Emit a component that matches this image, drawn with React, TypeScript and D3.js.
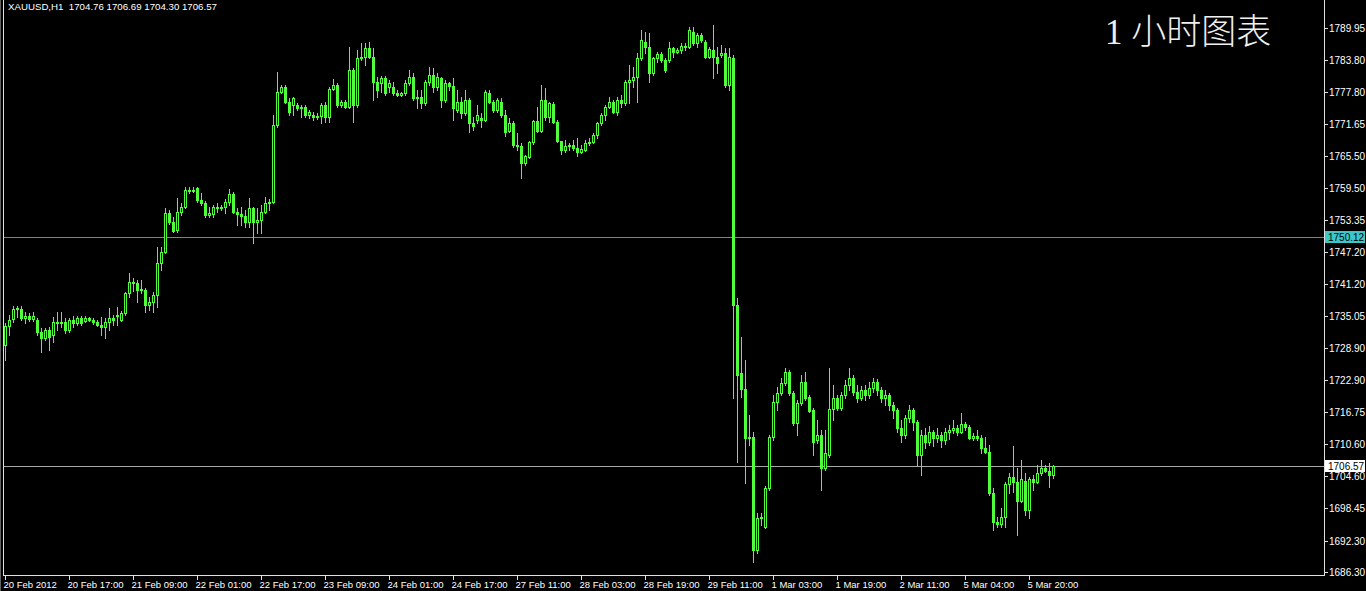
import React from 'react';
import * as d3 from 'd3';

const SYMBOL = 'XAUUSD,H1';
const TITLE = '1 小时图表';

const OPEN = [
1729.54,1733.17,1734.50,1736.40,1736.40,1734.69,1735.07,1734.50,1734.31,1732.02,
1730.88,1732.40,1731.45,1733.93,1733.74,1733.93,1732.40,1734.31,1733.74,1734.69,
1734.12,1734.69,1734.31,1733.93,1733.35,1732.97,1733.93,1734.69,1735.07,1734.31,
1735.64,1739.45,1741.55,1741.36,1740.02,1740.02,1737.17,1737.74,1739.07,1745.17,
1747.26,1754.70,1752.98,1751.45,1754.89,1755.84,1759.08,1758.89,1759.46,1757.17,
1756.60,1754.32,1754.51,1755.84,1755.65,1755.84,1756.79,1758.32,1754.89,1754.51,
1754.13,1752.98,1755.65,1752.98,1753.36,1754.89,1756.60,1756.79,1771.46,1777.75,
1778.70,1775.85,1775.28,1775.28,1774.70,1774.89,1773.37,1773.37,1772.99,1773.18,
1775.28,1772.99,1778.32,1779.08,1775.28,1775.85,1774.89,1781.95,1775.28,1784.23,
1784.42,1786.14,1784.42,1779.66,1779.46,1780.42,1778.70,1778.70,1777.56,1777.18,
1777.56,1779.46,1780.61,1776.61,1776.80,1775.66,1779.66,1780.99,1778.70,1780.42,
1776.23,1779.46,1778.89,1774.32,1775.85,1773.75,1776.23,1771.85,1772.42,1772.80,
1772.42,1777.56,1775.85,1774.32,1775.85,1773.37,1770.32,1771.85,1767.65,1767.46,
1764.22,1765.36,1768.22,1772.23,1770.32,1776.23,1772.99,1775.47,1772.04,1768.41,
1766.70,1767.46,1767.65,1767.08,1766.32,1766.70,1768.03,1768.22,1769.56,1771.85,
1773.37,1774.89,1775.85,1773.94,1776.23,1775.66,1779.66,1780.04,1780.61,1784.23,
1787.28,1786.33,1781.38,1784.23,1784.99,1783.85,1783.85,1786.14,1785.38,1785.76,
1786.52,1786.33,1789.19,1787.09,1788.61,1787.28,1784.42,1785.76,1784.42,1784.80,
1785.19,1779.08,1784.23,1737.17,1724.21,1721.16,1711.82,1712.01,1690.48,1696.58,
1694.86,1702.29,1712.01,1718.68,1720.40,1722.30,1724.40,1720.40,1714.68,1718.49,
1722.49,1719.63,1717.16,1711.44,1712.40,1706.10,1708.58,1717.35,1719.44,1717.54,
1720.02,1721.92,1723.25,1720.59,1719.44,1720.97,1720.02,1721.35,1722.49,1720.97,
1719.44,1720.02,1718.11,1717.16,1713.73,1712.40,1715.63,1717.16,1714.87,1708.58,
1712.40,1711.06,1712.96,1711.82,1712.40,1711.44,1712.96,1713.35,1713.73,1712.96,
1714.49,1713.92,1711.82,1712.20,1711.82,1709.91,1709.15,1701.34,1695.82,1695.44,
1696.77,1703.06,1704.39,1703.44,1699.82,1703.63,1698.10,1704.01,1703.44,1705.15,
1706.10,1705.53,1704.76,
];

const HIGH = [
1733.74,1735.26,1736.98,1736.98,1736.98,1735.83,1735.64,1735.83,1734.69,1732.78,
1732.78,1732.97,1734.88,1735.83,1735.83,1734.69,1734.69,1735.07,1735.07,1735.07,
1735.07,1734.88,1734.69,1734.31,1734.88,1734.69,1736.60,1735.26,1736.79,1736.02,
1739.64,1743.26,1742.31,1741.93,1741.93,1740.40,1738.69,1739.64,1748.21,1748.21,
1755.65,1755.27,1753.93,1757.55,1756.60,1759.65,1759.65,1759.65,1759.65,1758.51,
1756.98,1755.84,1756.22,1756.60,1756.22,1757.36,1759.27,1758.70,1755.65,1755.84,
1755.27,1757.55,1755.84,1755.65,1756.22,1757.74,1757.36,1773.37,1781.57,1779.08,
1779.08,1776.61,1776.80,1775.66,1775.28,1775.28,1774.32,1773.94,1773.75,1775.66,
1775.85,1778.70,1780.23,1779.46,1776.23,1776.23,1786.33,1782.33,1785.76,1787.09,
1787.09,1787.28,1786.14,1780.61,1780.80,1780.80,1780.04,1779.66,1778.13,1777.75,
1780.04,1781.95,1781.38,1778.13,1778.13,1780.04,1782.52,1782.33,1781.38,1780.61,
1780.04,1779.66,1780.42,1778.13,1776.80,1778.13,1776.61,1772.99,1775.28,1773.75,
1778.13,1778.13,1776.23,1776.61,1776.61,1774.32,1772.80,1772.23,1769.94,1768.03,
1765.75,1768.41,1772.42,1774.89,1779.08,1778.51,1775.85,1775.85,1772.42,1768.41,
1768.60,1768.03,1768.60,1768.98,1767.65,1768.60,1768.98,1769.94,1772.04,1773.75,
1775.28,1776.80,1776.23,1776.80,1777.18,1780.04,1782.90,1782.52,1785.19,1789.57,
1789.19,1788.99,1784.42,1785.38,1785.38,1784.23,1787.28,1786.33,1786.14,1787.09,
1787.09,1790.14,1790.14,1788.99,1788.99,1787.66,1786.33,1790.52,1786.33,1786.71,
1786.14,1786.14,1784.80,1738.50,1731.07,1726.68,1716.20,1712.96,1697.53,1697.53,
1702.68,1712.39,1720.02,1721.54,1723.25,1725.16,1724.78,1720.78,1719.06,1723.83,
1724.40,1720.02,1717.54,1715.25,1713.35,1713.35,1725.16,1721.92,1720.02,1720.59,
1722.87,1725.16,1723.83,1721.92,1721.73,1721.92,1722.49,1723.25,1723.06,1721.54,
1720.97,1720.40,1718.68,1717.54,1715.25,1716.20,1718.11,1717.54,1715.25,1713.35,
1713.73,1714.11,1713.35,1713.73,1712.96,1713.73,1714.30,1715.25,1714.30,1716.58,
1714.87,1714.30,1712.77,1713.35,1712.40,1712.01,1710.48,1702.29,1696.77,1698.48,
1703.44,1705.15,1710.29,1706.10,1707.63,1705.15,1704.39,1704.77,1706.67,1707.63,
1706.67,1707.06,1706.69,
];

const LOW = [
1726.68,1731.45,1733.93,1734.88,1734.31,1733.74,1734.12,1734.12,1731.45,1728.21,
1730.49,1728.59,1730.11,1732.40,1732.97,1731.83,1732.02,1732.97,1733.35,1733.35,
1733.93,1734.12,1733.55,1733.17,1731.45,1730.88,1732.40,1733.35,1733.35,1734.12,
1735.26,1738.69,1739.83,1737.74,1739.45,1735.83,1736.21,1735.83,1736.79,1743.83,
1747.07,1752.60,1751.07,1751.07,1754.32,1755.65,1758.51,1758.70,1756.79,1756.22,
1753.93,1753.93,1753.93,1754.89,1755.27,1754.70,1756.22,1754.70,1752.41,1752.41,
1752.03,1752.03,1748.98,1750.88,1750.88,1754.70,1755.27,1756.60,1771.08,1777.56,
1775.66,1773.37,1773.37,1774.32,1772.99,1772.99,1772.80,1772.42,1772.61,1771.85,
1772.04,1772.04,1778.13,1774.89,1774.89,1774.70,1774.70,1772.04,1774.89,1783.85,
1782.90,1784.23,1776.23,1776.80,1777.75,1777.18,1777.75,1777.18,1776.99,1776.99,
1777.18,1779.08,1776.23,1774.70,1774.70,1775.28,1779.08,1777.75,1778.13,1774.89,
1775.85,1778.13,1772.42,1773.94,1772.80,1773.37,1770.13,1770.51,1771.85,1771.08,
1772.23,1775.66,1773.94,1773.94,1772.99,1769.37,1770.13,1767.27,1766.70,1761.36,
1763.84,1765.17,1767.84,1770.13,1770.13,1772.42,1772.04,1771.85,1768.22,1765.93,
1766.32,1766.70,1766.70,1765.55,1766.13,1766.51,1767.65,1768.03,1768.98,1771.46,
1772.42,1774.70,1773.75,1773.37,1774.89,1775.28,1775.66,1778.70,1775.85,1783.85,
1785.19,1779.66,1780.99,1783.47,1783.47,1781.57,1783.47,1784.42,1785.19,1785.19,
1785.76,1786.14,1786.71,1786.33,1787.28,1784.23,1784.23,1780.42,1781.38,1784.42,
1778.70,1778.13,1719.44,1707.25,1719.63,1703.25,1710.48,1688.19,1689.91,1695.25,
1694.67,1701.91,1711.44,1717.16,1720.02,1721.92,1720.02,1714.30,1712.40,1718.11,
1719.06,1716.78,1708.58,1710.87,1701.91,1705.72,1708.20,1715.25,1717.16,1717.16,
1719.44,1720.97,1720.02,1718.68,1719.06,1719.06,1719.44,1720.59,1720.02,1718.68,
1718.11,1717.16,1715.63,1712.96,1711.06,1711.82,1714.87,1713.35,1706.67,1704.77,
1709.91,1710.48,1710.29,1711.06,1710.10,1710.68,1711.63,1712.77,1712.40,1712.77,
1713.35,1711.63,1711.44,1711.44,1708.96,1708.96,1700.96,1694.29,1694.86,1694.86,
1694.86,1701.34,1701.53,1693.34,1699.63,1697.15,1696.58,1701.91,1703.25,1704.77,
1705.34,1702.48,1704.30,
];

const CLOSE = [
1733.17,1734.31,1736.40,1736.60,1734.69,1735.07,1734.50,1735.07,1732.02,1730.88,
1732.40,1731.07,1733.93,1733.74,1733.93,1732.40,1734.31,1733.74,1734.69,1733.74,
1734.69,1734.31,1733.93,1733.35,1732.97,1733.93,1734.69,1734.31,1735.26,1735.64,
1739.45,1741.55,1741.36,1740.02,1740.21,1737.17,1737.74,1739.07,1745.17,1747.26,
1754.70,1752.98,1751.26,1754.89,1755.84,1759.08,1758.89,1759.08,1757.17,1756.60,
1754.32,1754.70,1755.84,1755.65,1755.84,1756.79,1758.32,1754.89,1754.51,1754.13,
1752.98,1755.65,1752.98,1753.36,1754.89,1756.60,1756.79,1771.46,1777.75,1778.70,
1775.85,1773.94,1776.61,1774.70,1774.89,1773.37,1773.94,1772.99,1773.18,1775.28,
1772.99,1778.32,1779.08,1775.28,1775.85,1774.89,1781.95,1775.28,1784.23,1784.42,
1786.14,1784.42,1779.66,1778.13,1780.42,1777.56,1779.46,1777.56,1777.18,1777.56,
1779.46,1780.61,1776.61,1776.80,1775.66,1779.66,1780.99,1778.70,1780.61,1776.23,
1779.46,1778.89,1774.70,1775.85,1773.75,1776.23,1771.85,1771.27,1773.37,1772.42,
1777.75,1775.85,1774.32,1776.23,1773.37,1770.13,1771.85,1767.65,1767.46,1764.22,
1765.55,1768.22,1772.23,1770.32,1776.23,1772.99,1775.66,1772.04,1768.41,1766.70,
1767.46,1767.65,1767.08,1766.32,1766.89,1768.03,1768.22,1769.56,1771.85,1773.37,
1774.89,1775.85,1773.94,1776.23,1775.66,1779.66,1780.04,1780.61,1784.23,1787.66,
1786.33,1781.38,1784.23,1784.99,1783.85,1781.95,1786.14,1785.38,1785.76,1786.52,
1786.33,1789.57,1787.09,1788.61,1787.66,1784.42,1785.95,1784.42,1783.28,1785.19,
1779.08,1784.42,1737.17,1723.83,1721.16,1711.82,1712.01,1690.48,1696.58,1696.77,
1702.29,1712.01,1718.68,1720.40,1722.30,1724.40,1720.40,1714.68,1718.49,1722.49,
1719.44,1716.97,1711.06,1712.40,1706.10,1708.96,1717.35,1719.44,1717.54,1720.02,
1721.92,1723.25,1720.59,1719.44,1720.97,1720.02,1721.35,1722.49,1720.97,1719.44,
1720.02,1718.11,1717.16,1713.73,1712.40,1715.63,1717.16,1714.87,1708.58,1712.40,
1711.06,1712.96,1711.82,1712.40,1711.44,1712.96,1713.35,1713.73,1712.96,1714.49,
1713.92,1711.82,1712.20,1711.82,1709.91,1709.15,1701.34,1695.82,1695.44,1696.77,
1703.06,1704.39,1703.44,1699.82,1704.01,1698.10,1704.01,1703.44,1705.15,1706.10,
1705.53,1704.76,1706.57,
];

const Y_TICKS = [1789.95, 1783.80, 1777.80, 1771.65, 1765.50, 1759.50, 1753.35, 1747.20, 1741.20,
  1735.05, 1728.90, 1722.90, 1716.75, 1710.60, 1704.60, 1698.45, 1692.30, 1686.30];

const X_TICK_BARS = [0, 16, 32, 48, 64, 80, 96, 112, 128, 144, 160, 176, 192, 208, 224, 240, 256];
const X_TICK_LABELS = ['20 Feb 2012', '20 Feb 17:00', '21 Feb 09:00', '22 Feb 01:00', '22 Feb 17:00',
  '23 Feb 09:00', '24 Feb 01:00', '24 Feb 17:00', '27 Feb 11:00', '28 Feb 03:00', '28 Feb 19:00',
  '29 Feb 11:00', '1 Mar 03:00', '1 Mar 19:00', '2 Mar 11:00', '5 Mar 04:00', '5 Mar 20:00'];

const LEVEL_LINE = 1750.12;

const GREEN = '#50ff3c';
const FONT = '"Liberation Sans", Arial, sans-serif';

export default function App() {
  const W = 1366;
  const H = 591;
  const plotRight = 1324.5;
  const plotBottom = 575.5;
  const x = d3.scaleLinear().domain([0, 1]).range([5, 9]);
  const y = d3.scaleLinear().domain([1686.30, 1789.95]).range([572, 28]);
  const fmt = d3.format('.2f');
  const last = CLOSE.length - 1;
  const bid = CLOSE[last];

  const candles = CLOSE.map((c, i) => {
    const o = OPEN[i];
    const col = x(i);
    const yH = Math.round(y(HIGH[i]));
    const yL = Math.round(y(LOW[i]));
    const yTop = Math.round(y(Math.max(o, c)));
    const yBot = Math.round(y(Math.min(o, c)));
    const bull = c >= o;
    return (
      <g key={i}>
        <line x1={col + 0.5} x2={col + 0.5} y1={yH} y2={yL + 1} stroke={GREEN} strokeWidth={1} />
        {yBot - yTop < 1 ? (
          <line x1={col - 1} x2={col + 2} y1={yTop + 0.5} y2={yTop + 0.5} stroke={GREEN} strokeWidth={1} />
        ) : (
          <rect x={col - 0.5} y={yTop + 0.5} width={2} height={yBot - yTop}
            fill={bull ? '#000' : GREEN} stroke={GREEN} strokeWidth={1} />
        )}
      </g>
    );
  });

  const yLevel = Math.round(y(LEVEL_LINE)) + 0.5;
  const yBid = Math.round(y(bid)) + 0.5;

  return (
    <div style={{ position: 'fixed', left: 0, top: 0, width: W, height: H, background: '#000' }}>
      <svg width={W} height={H} style={{ display: 'block', background: '#000' }} shapeRendering="crispEdges">
        <rect x={0} y={0} width={W} height={H} fill="#000" />
        {/* horizontal lines */}
        <line x1={4} x2={plotRight} y1={yLevel} y2={yLevel} stroke="#00b8b8" strokeWidth={1} />
        <line x1={4} x2={plotRight} y1={yBid} y2={yBid} stroke="#a8a8a8" strokeWidth={1} />
        {/* candles */}
        <g>{candles}</g>
        {/* frame */}
        <line x1={3.5} x2={3.5} y1={0} y2={plotBottom} stroke="#e0e0e0" strokeWidth={1} />
        <line x1={0.5} x2={0.5} y1={0} y2={H} stroke="#606060" strokeWidth={1} />
        <line x1={3.5} x2={plotRight} y1={plotBottom} y2={plotBottom} stroke="#e0e0e0" strokeWidth={1} />
        <line x1={plotRight} x2={plotRight} y1={0} y2={plotBottom} stroke="#e0e0e0" strokeWidth={1} />
        {/* y axis */}
        {Y_TICKS.map((v) => {
          const yy = Math.round(y(v)) + 0.5;
          return (
            <g key={v}>
              <line x1={plotRight} x2={plotRight + 3} y1={yy} y2={yy} stroke="#e0e0e0" />
              <text x={1329} y={yy} dy="0.35em" fill="#ffffff" fontFamily={FONT} fontSize={10}
                shapeRendering="auto">{fmt(v)}</text>
            </g>
          );
        })}
        {/* price boxes */}
        <rect x={1325} y={yLevel - 6.5} width={40} height={12} fill="#3cc8c8" />
        <text x={1328} y={yLevel} dy="0.35em" fill="#000" fontFamily={FONT} fontSize={10}>{fmt(LEVEL_LINE)}</text>
        <rect x={1325} y={yBid - 6.5} width={40} height={12} fill="#ffffff" />
        <text x={1328} y={yBid} dy="0.35em" fill="#000" fontFamily={FONT} fontSize={10}>{fmt(bid)}</text>
        {/* x axis */}
        {X_TICK_BARS.map((b, i) => {
          const xx = x(b) + 0.5;
          return (
            <g key={b}>
              <line x1={xx} x2={xx} y1={plotBottom} y2={plotBottom + 4} stroke="#e0e0e0" />
              <text x={xx - 2} y={588} fill="#ffffff" fontFamily={FONT} fontSize={9.5}>{X_TICK_LABELS[i]}</text>
            </g>
          );
        })}
        {/* header */}
        <text x={8} y={10} fill="#ffffff" fontFamily={FONT} fontSize={9.7} xmlSpace="preserve">
          {`${SYMBOL}  ${fmt(OPEN[last])} ${fmt(HIGH[last])} ${fmt(LOW[last])} ${fmt(CLOSE[last])}`}
        </text>
        {/* title */}
        <text x={1105} y={44} fill="#f0f0f0" fontSize={35} fontWeight={300}
          fontFamily={'"Liberation Serif", "Noto Sans CJK SC", serif'}>{TITLE}</text>
      </svg>
    </div>
  );
}
